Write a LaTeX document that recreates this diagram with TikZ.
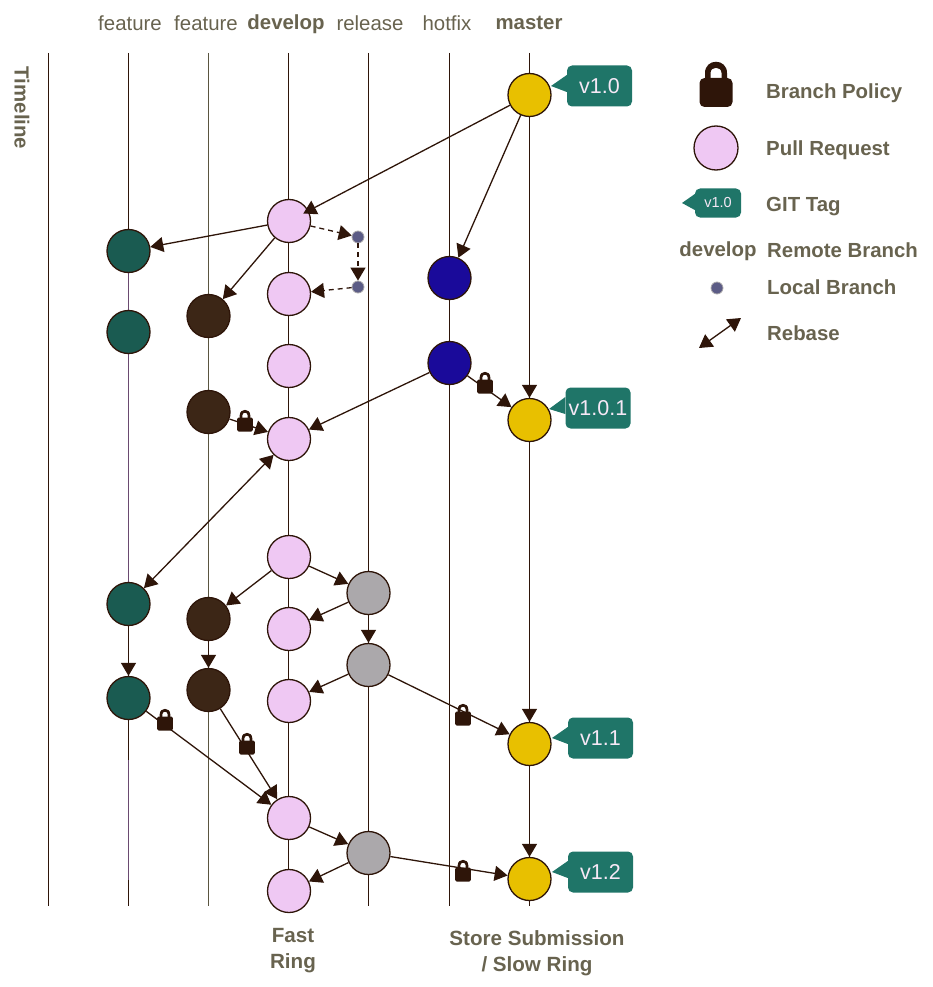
\documentclass[tikz,border=0pt]{standalone}
\usepackage{fontspec}
\setmainfont{Liberation Sans}
\usetikzlibrary{arrows.meta}
\definecolor{ink}{HTML}{2E1509}
\definecolor{txt}{HTML}{68634F}
\definecolor{pr}{HTML}{EFC8F3}
\definecolor{gold}{HTML}{E8C000}
\definecolor{teal}{HTML}{1F7568}
\definecolor{feat}{HTML}{1A5B51}
\definecolor{brn}{HTML}{3C2616}
\definecolor{navy}{HTML}{1A0A9A}
\definecolor{gry}{HTML}{ABA8AB}
\definecolor{locl}{HTML}{5C5C86}
\definecolor{purp}{HTML}{6A4A70}
\definecolor{olv}{HTML}{5A5540}
\definecolor{tagt}{HTML}{F6E8F6}
\tikzset{
  x=1pt,y=-1pt,
  lockr/.store in=\lockr, lockr=1.5pt,
  commit/.style={circle,draw=ink,line width=1.3pt,minimum size=43pt,inner sep=0pt},
  devnode/.style={commit,fill=pr},
  mastnode/.style={commit,fill=gold},
  featnode/.style={commit,fill=feat},
  brnnode/.style={commit,fill=brn},
  fixnode/.style={commit,fill=navy},
  relnode/.style={commit,fill=gry},
  localnode/.style={circle,draw=gry,line width=.8pt,fill=locl,minimum size=12pt,inner sep=0pt},
  lane/.style={draw=ink,line width=1.3pt},
  flow/.style={draw=ink,line width=1.3pt,-{Triangle[length=13pt,width=15pt]}},
  both/.style={draw=ink,line width=1.3pt,{Triangle[length=13pt,width=15pt]}-{Triangle[length=13pt,width=15pt]}},
  dflow/.style={flow,dashed,dash pattern=on 5pt off 4pt},
  head/.style={text=txt,font=\fontsize{20.4}{24}\selectfont,anchor=center,inner sep=0pt},
  bhead/.style={head,font=\fontsize{20.4}{24}\selectfont\bfseries},
  multi/.style={bhead,align=center,font=\fontsize{20.6}{26}\selectfont\bfseries},
  legendt/.style={bhead,anchor=west},
  tagbox/.style={fill=teal,rounded corners=5pt,minimum width=65pt,minimum height=41pt,inner sep=0pt,text=tagt,font=\fontsize{21.5}{24}\selectfont},
  smalltag/.style={tagbox,minimum width=46pt,minimum height=29pt,font=\fontsize{14.5}{16}\selectfont},
  lockpic/.pic={
    \fill[ink,even odd rule] (-11,-6) -- (-11,-12) .. controls (-11,-27) and (11,-27) .. (11,-12) -- (11,-6) -- cycle
      (-5.5,-6) -- (-5.5,-12) .. controls (-5.5,-19) and (5.5,-19) .. (5.5,-12) -- (5.5,-6) -- cycle;
    \fill[ink,rounded corners=\lockr] (-16.5,-7) rectangle (16.5,22);
  }
}
\newcommand{\tagat}[5]{%
  \node[tagbox] (#1) at (#2,#3) {#4};
  \coordinate (#1tip) at (#5);
  \fill[teal] (#1tip) -- ([yshift=11pt]#1.west) -- ([yshift=-6pt]#1.west) -- cycle;
}
\begin{document}
\begin{tikzpicture}
\useasboundingbox (0,0) rectangle (932,987);
% lanes
\foreach \nm/\lx in {tl/48.5,fa/128.5,de/288.7,re/368.5,ho/449.5,ma/529.5}{
  \coordinate (\nm top) at (\lx,53);
  \coordinate (\nm bot) at (\lx,906);
  \draw[lane] (\nm top) -- (\nm bot);
}
\coordinate (fbtop) at (208.5,53);
\coordinate (fbbot) at (208.5,906);
\draw[lane,draw=olv] (fbtop) -- (fbbot);
\coordinate (pa) at (128.5,270);
\coordinate (pb) at (128.5,585);
\coordinate (pc) at (128.5,760);
\coordinate (pd) at (128.5,880);
\draw[lane,draw=purp] (pa) -- (pb);
\draw[lane,draw=purp] (pc) -- (pd);
% headings
\node[head] (h1) at (130,23) {feature};
\node[head] (h2) at (206,23) {feature};
\node[bhead] (h3) at (286,24.5) {develop};
\node[head] (h4) at (370,23) {release};
\node[head] (h5) at (447,23) {hotfix};
\node[bhead] (h6) at (529,23) {master};
\node[bhead,rotate=-90] (tl) at (22,108) {Timeline};
\node[multi] (fast) at (293,951) {Fast\\Ring};
\node[multi] (store) at (537,953) {Store Submission\\/ Slow Ring};
% commits
\node[mastnode] (m1) at (529.5,95) {};
\node[mastnode] (m2) at (529.5,420) {};
\node[mastnode] (m3) at (529.5,744) {};
\node[mastnode] (m4) at (529.5,879) {};
\node[devnode] (d1) at (289,221) {};
\node[devnode] (d2) at (289,294) {};
\node[devnode] (d3) at (289,366) {};
\node[devnode] (d4) at (289,439) {};
\node[devnode] (d5) at (289,557) {};
\node[devnode] (d6) at (289,629) {};
\node[devnode] (d7) at (289,701) {};
\node[devnode] (d8) at (289,818) {};
\node[devnode] (d9) at (289,891) {};
\node[featnode] (fa1) at (128.5,251) {};
\node[featnode] (fa2) at (128.5,332) {};
\node[featnode] (fa3) at (128.5,604) {};
\node[featnode] (fa4) at (128.5,698) {};
\node[brnnode] (fb1) at (208.5,316) {};
\node[brnnode] (fb2) at (208.5,412) {};
\node[brnnode] (fb3) at (208.5,619) {};
\node[brnnode] (fb4) at (208.5,690) {};
\node[relnode] (r1) at (368.5,593) {};
\node[relnode] (r2) at (368.5,665) {};
\node[relnode] (r3) at (368.5,853) {};
\node[fixnode] (x1) at (449.5,278) {};
\node[fixnode] (x2) at (449.5,363) {};
\node[localnode] (l1) at (358,237) {};
\node[localnode] (l2) at (358,287) {};
% connectors
\draw[flow,shorten >=-6pt] (m1) -- (d1);
\draw[flow] (m1) -- (x1);
\draw[flow] (m1) -- (m2);
\draw[flow] (m2) -- (m3);
\draw[flow] (m3) -- (m4);
\draw[flow] (d1) -- (fa1);
\draw[flow] (d1) -- (fb1);
\draw[dflow] (d1) -- (l1);
\draw[dflow] (l1) -- (l2);
\draw[dflow] (l2) -- (d2);
\draw[flow] (fb2) -- (d4);
\draw[flow] (x2) -- (d4);
\draw[flow] (x2) -- (m2);
\draw[both] (d4) -- (fa3);
\draw[flow] (d5) -- (fb3);
\draw[flow] (d5) -- (r1);
\draw[flow] (r1) -- (d6);
\draw[flow] (r1) -- (r2);
\draw[flow] (r2) -- (d7);
\draw[flow] (r2) -- (m3);
\draw[flow] (fa3) -- (fa4);
\draw[flow] (fb3) -- (fb4);
\draw[flow] (fa4) -- (d8);
\draw[flow] (fb4) -- (d8);
\draw[flow] (d8) -- (r3);
\draw[flow] (r3) -- (d9);
\draw[flow] (r3) -- (m4);
% locks
\pic[scale=.48] (k1) at (245,421) {lockpic};
\pic[scale=.48] (k2) at (485,383) {lockpic};
\pic[scale=.48] (k3) at (463,715) {lockpic};
\pic[scale=.48] (k4) at (247,744) {lockpic};
\pic[scale=.48] (k5) at (165,720) {lockpic};
\pic[scale=.48] (k6) at (463,871) {lockpic};
% tags
\tagat{t1}{599.5}{86}{v1.0}{551,86}
\tagat{t2}{598}{408}{v1.0.1}{549,409}
\tagat{t3}{600.5}{738}{v1.1}{552,738}
\tagat{t4}{600.5}{872}{v1.2}{552,872}
% legend
\pic[lockr=5pt] (lk) at (716,85) {lockpic};
\node[legendt] (lg1) at (766,93) {Branch Policy};
\node[devnode,minimum size=44pt] (lpr) at (716,148) {};
\node[legendt] (lg2) at (766,150.5) {Pull Request};
\node[smalltag] (lt) at (718,203) {v1.0};
\coordinate (ltt) at (682,203);
\fill[teal] (ltt) -- ([yshift=9pt]lt.west) -- ([yshift=-7pt]lt.west) -- cycle;
\node[legendt] (lg3) at (766,207) {GIT Tag};
\node[bhead] (lde) at (718,251) {develop};
\node[legendt] (lg4) at (767,250) {Remote Branch};
\node[localnode] (lloc) at (717,288) {};
\node[legendt] (lg5) at (767,287) {Local Branch};
\coordinate (ra) at (699,348);
\coordinate (rb) at (741,318);
\draw[both] (ra) -- (rb);
\node[legendt] (lg6) at (767,333) {Rebase};
\end{tikzpicture}
\end{document}
